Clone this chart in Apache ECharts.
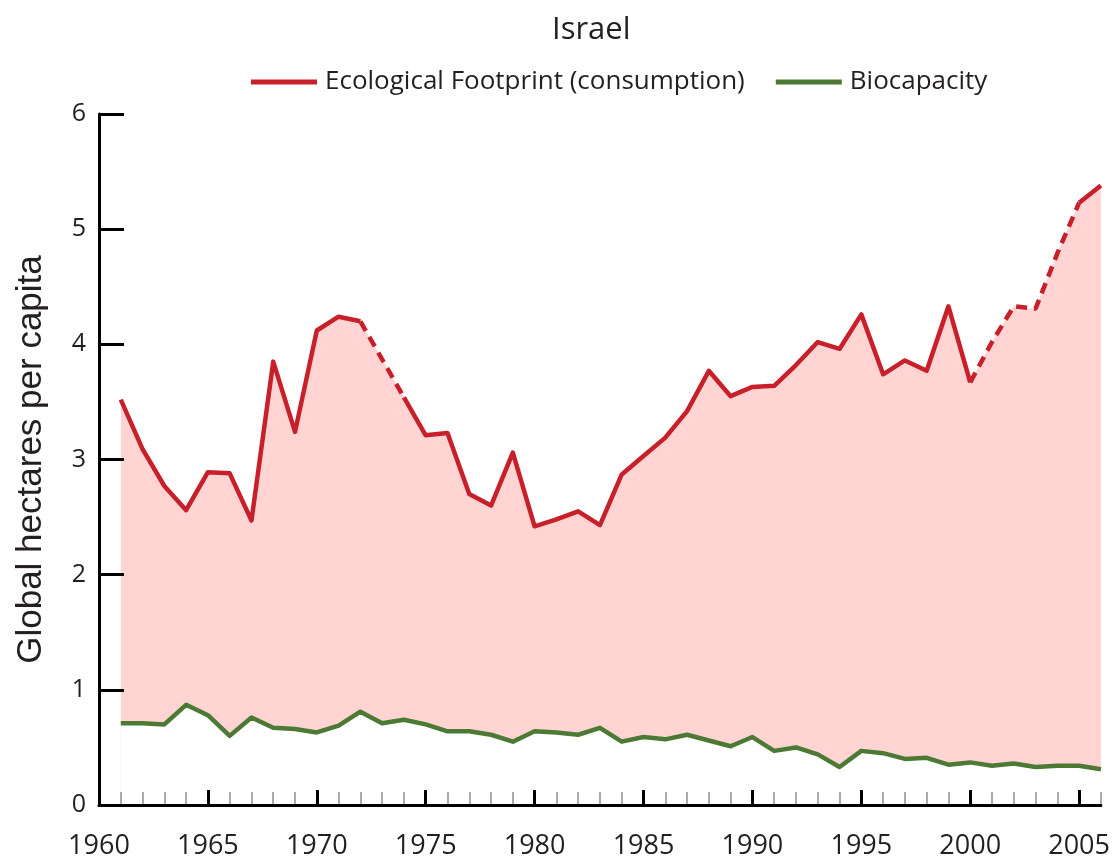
<!DOCTYPE html>
<html>
<head>
    <meta charset="utf-8">
    <script src="https://cdn.jsdelivr.net/npm/echarts@6/dist/echarts.min.js"></script>
    <style>
        html, body { margin: 0; padding: 0; background: #fff; }
    </style>
</head>
<body>
<div id="chart" style="width: 1113px;height:860px;"></div>
<script type="text/javascript">
    // data
    var years = [1961, 1962, 1963, 1964, 1965, 1966, 1967, 1968, 1969, 1970,
        1971, 1972, 1973, 1974, 1975, 1976, 1977, 1978, 1979, 1980,
        1981, 1982, 1983, 1984, 1985, 1986, 1987, 1988, 1989, 1990,
        1991, 1992, 1993, 1994, 1995, 1996, 1997, 1998, 1999, 2000,
        2001, 2002, 2003, 2004, 2005, 2006];
    var footprint = [3.52, 3.09, 2.77, 2.56, 2.89, 2.88, 2.47, 3.85, 3.24, 4.12,
        4.24, 4.20, 3.87, 3.54, 3.21, 3.23, 2.70, 2.60, 3.06, 2.42,
        2.48, 2.55, 2.43, 2.87, 3.03, 3.19, 3.42, 3.77, 3.55, 3.63,
        3.64, 3.82, 4.02, 3.96, 4.26, 3.74, 3.86, 3.77, 4.33, 3.67,
        4.02, 4.33, 4.31, 4.79, 5.23, 5.38];
    var biocapacity = [0.71, 0.71, 0.70, 0.87, 0.78, 0.60, 0.76, 0.67, 0.66, 0.63,
        0.69, 0.81, 0.71, 0.74, 0.70, 0.64, 0.64, 0.61, 0.55, 0.64,
        0.63, 0.61, 0.67, 0.55, 0.59, 0.57, 0.61, 0.56, 0.51, 0.59,
        0.47, 0.50, 0.44, 0.33, 0.47, 0.45, 0.40, 0.41, 0.35, 0.37,
        0.34, 0.36, 0.33, 0.34, 0.34, 0.31];
    // stretches of the footprint line drawn dashed
    var dashedRanges = [[1972, 1974], [2000, 2005]];
    var labelYears = [1960, 1965, 1970, 1975, 1980, 1985, 1990, 1995, 2000, 2005];

    var RED = '#c8202b', GREEN = '#4c7a34', PINK = '#ffd4d2';
    var FONT = '"Open Sans", sans-serif';

    function inDashed(y, strict) {
        for (var k = 0; k < dashedRanges.length; k++) {
            var r = dashedRanges[k];
            if (strict ? (y > r[0] && y < r[1]) : (y >= r[0] && y <= r[1])) return true;
        }
        return false;
    }

    var fullData = [], solidData = [], dashedData = [], bioData = [];
    for (var i = 0; i < years.length; i++) {
        fullData.push([years[i], footprint[i]]);
        solidData.push([years[i], inDashed(years[i], true) ? null : footprint[i]]);
        dashedData.push([years[i], inDashed(years[i], false) ? footprint[i] : null]);
        bioData.push([years[i], biocapacity[i]]);
    }

    var minorTicks = [], majorTicks = [];
    for (var y = 1961; y <= 2006; y++) {
        if (y % 5 === 0) majorTicks.push(y); else minorTicks.push(y);
    }

    var myChart = echarts.init(document.getElementById('chart'));

    var option = {
        animation: false,
        title: {
            text: 'Israel',
            left: 547,
            top: 10,
            textStyle: { fontFamily: FONT, fontSize: 31, fontWeight: 'normal', color: '#231f20' }
        },
        legend: {
            left: 246,
            top: 64,
            itemWidth: 66,
            itemHeight: 5,
            itemGap: 31,
            icon: 'rect',
            data: ['Ecological Footprint (consumption)', 'Biocapacity'],
            textStyle: { fontFamily: FONT, fontSize: 26, color: '#231f20', padding: [0, 0, 0, 3] }
        },
        grid: { left: 99, right: 12, top: 114, bottom: 53 },
        xAxis: [{
            type: 'value', position: 'bottom', z: 5,
            min: 1960, max: 2006, interval: 1,
            axisLine: { show: false },
            axisTick: { inside: true, length: 13, customValues: minorTicks,
                lineStyle: { color: '#aaaaaa', width: 2 } },
            axisLabel: { show: false },
            splitLine: { show: false }
        }, {
            type: 'value', position: 'bottom', z: 6,
            min: 1960, max: 2006, interval: 5,
            axisLine: { lineStyle: { color: '#000', width: 3 } },
            axisTick: { inside: true, length: 15, customValues: majorTicks,
                lineStyle: { color: '#000', width: 3 } },
            axisLabel: { customValues: labelYears, margin: 28, color: '#231f20',
                fontFamily: FONT, fontSize: 27,
                formatter: function (v) { return String(v); } },
            splitLine: { show: false }
        }],
        yAxis: {
            type: 'value', min: 0, max: 6, interval: 1, z: 6,
            name: 'Global hectares per capita',
            nameLocation: 'middle', nameRotate: 90, nameGap: 50,
            nameTextStyle: { fontFamily: '"Liberation Sans", Arial, sans-serif', fontSize: 35, color: '#231f20' },
            axisLine: { lineStyle: { color: '#000', width: 3 } },
            axisTick: { inside: true, length: 25, lineStyle: { color: '#000', width: 3 } },
            axisLabel: { margin: 13, color: '#231f20', fontFamily: FONT, fontSize: 25 },
            splitLine: { show: false }
        },
        series: [{
            // pink deficit area: filled down to zero, then masked below biocapacity
            name: 'deficit', type: 'line', data: fullData, z: 1,
            symbol: 'none', lineStyle: { width: 0 },
            areaStyle: { color: PINK, opacity: 1, origin: 'start' }, silent: true
        }, {
            name: 'mask', type: 'line', data: bioData, z: 1,
            symbol: 'none', lineStyle: { width: 0 },
            areaStyle: { color: '#ffffff', opacity: 1, origin: 'start' }, silent: true
        }, {
            name: 'Biocapacity', type: 'line', data: bioData, color: GREEN, z: 3,
            symbol: 'none', lineStyle: { color: GREEN, width: 4.5, join: 'round' }
        }, {
            name: 'Ecological Footprint (consumption)', type: 'line', data: solidData, color: RED, z: 3,
            symbol: 'none', lineStyle: { color: RED, width: 4.5, join: 'round' }
        }, {
            name: 'estimated', type: 'line', data: dashedData, color: RED, z: 3,
            symbol: 'none', lineStyle: { color: RED, width: 4.5, type: [11, 7] }
        }]
    };

    myChart.setOption(option);
</script>
</body>
</html>
